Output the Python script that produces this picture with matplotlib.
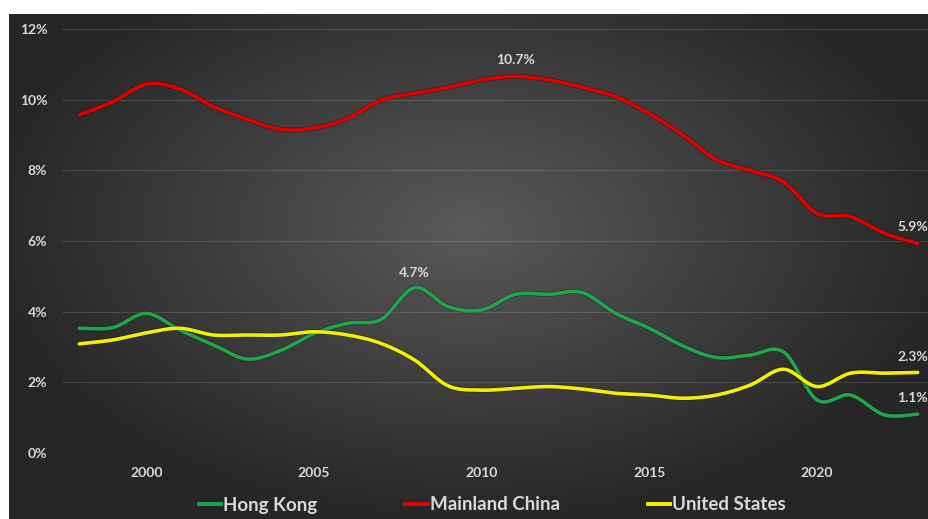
import numpy as np
import matplotlib
matplotlib.use("Agg")
import matplotlib.pyplot as plt
import matplotlib.patheffects as pe
from matplotlib.lines import Line2D

# --- data ---
years = list(range(1998, 2024))
hong_kong = [3.53, 3.55, 3.95, 3.48, 3.06, 2.66, 2.90, 3.38, 3.67, 3.78, 4.68, 4.14, 4.05,
             4.49, 4.49, 4.54, 3.95, 3.53, 3.03, 2.70, 2.77, 2.86, 1.50, 1.64, 1.08, 1.10]
mainland_china = [9.57, 9.94, 10.44, 10.30, 9.80, 9.45, 9.16, 9.20, 9.47, 9.99, 10.18, 10.35, 10.56,
                  10.66, 10.56, 10.35, 10.08, 9.60, 9.00, 8.30, 8.00, 7.67, 6.78, 6.69, 6.22, 5.93]
united_states = [3.09, 3.20, 3.40, 3.53, 3.34, 3.34, 3.34, 3.43, 3.34, 3.10, 2.63, 1.90, 1.78,
                 1.83, 1.88, 1.81, 1.69, 1.64, 1.55, 1.64, 1.92, 2.37, 1.88, 2.26, 2.26, 2.28]

series = [("Hong Kong", hong_kong, "#1fa64b"),
          ("Mainland China", mainland_china, "#e00000"),
          ("United States", united_states, "#f2f200")]

# labelled points: (series index, year, text, dx px, dy px, ha)
labels = [(1, 2011, "10.7%", 0, 16, "center"),
          (0, 2008, "4.7%", 0, 15, "center"),
          (1, 2023, "5.9%", 10, 16, "right"),
          (2, 2023, "2.3%", 10, 15, "right"),
          (0, 2023, "1.1%", 10, 16, "right")]

TXT = "#d9d9d9"
plt.rcParams["font.family"] = ["Lato", "DejaVu Sans"]
plt.rcParams["font.weight"] = "bold"


def smooth(x, y, n=20):
    """Excel-style smoothed line: Bezier segments through every point."""
    x = np.asarray(x, float)
    y = np.asarray(y, float)
    px = np.concatenate([[x[0]], x, [x[-1]]])
    py = np.concatenate([[y[0]], y, [y[-1]]])
    t = np.linspace(0, 1, n)[:, None]
    xs, ys = [], []
    for i in range(1, len(px) - 2):
        p0 = np.array([px[i], py[i]])
        p3 = np.array([px[i + 1], py[i + 1]])
        c1 = p0 + (np.array([px[i + 1], py[i + 1]]) - np.array([px[i - 1], py[i - 1]])) / 6
        c2 = p3 - (np.array([px[i + 2], py[i + 2]]) - p0) / 6
        seg = ((1 - t) ** 3) * p0 + 3 * ((1 - t) ** 2) * t * c1 + 3 * (1 - t) * t ** 2 * c2 + t ** 3 * p3
        xs.append(seg[:, 0])
        ys.append(seg[:, 1])
    return np.concatenate(xs), np.concatenate(ys)


W, H = 929, 519
fig = plt.figure(figsize=(W / 100, H / 100), dpi=100, facecolor="white")

# radial gradient background
bg = fig.add_axes([9 / W, 0, (W - 9) / W, (H - 14) / H])
gx, gy = np.meshgrid(np.linspace(-1, 1, 400), np.linspace(-1, 1, 240))
r = np.sqrt(gx ** 2 + ((gy + 0.15) * 0.9) ** 2)
shade = np.clip(0.35 - 0.19 * r, 0.15, 0.35)
bg.imshow(np.dstack([shade] * 3), aspect="auto", extent=[0, 1, 0, 1], interpolation="bilinear")
bg.set_axis_off()

ax = fig.add_axes([62.5 / W, (H - 453) / H, (934.5 - 62.5) / W, (453 - 29) / H])
ax.set_facecolor("none")
ax.set_xlim(1997.5, 2023.5)
ax.set_ylim(0, 12)

for name, vals, color in series:
    sx, sy = smooth(years, vals)
    ax.plot(sx, sy, color=color, lw=2.6, solid_capstyle="round", zorder=3,
            path_effects=[pe.Stroke(linewidth=3.6, foreground="black", alpha=0.35), pe.Normal()])

for si, yr, txt, dx, dy, ha in labels:
    val = series[si][1][years.index(yr)]
    ax.annotate(txt, xy=(yr, val), xytext=(dx * 0.72, dy * 0.72), textcoords="offset points",
                ha=ha, va="center", color=TXT, fontsize=10, fontweight="bold",
                annotation_clip=False)

ax.set_yticks(range(0, 13, 2))
ax.set_yticklabels([f"{v}%" for v in range(0, 13, 2)])
ax.set_xticks(range(2000, 2021, 5))
ax.tick_params(axis="both", length=0, colors=TXT, labelsize=10)
ax.tick_params(axis="y", pad=11)
ax.tick_params(axis="x", pad=10)
ax.grid(axis="y", color="white", alpha=0.13, lw=0.8)
for s in ax.spines.values():
    s.set_visible(False)

handles = [Line2D([], [], color=c, lw=2.8) for _, _, c in series]
fig.legend(handles, [n for n, _, _ in series], loc="center", bbox_to_anchor=(0.53, 14 / H),
           ncol=3, frameon=False, labelcolor=TXT, handlelength=1.2,
           handletextpad=0.1, columnspacing=4.7, prop={"weight": "bold", "size": 13.5})

fig.savefig("out.png", dpi=100, facecolor="white")
